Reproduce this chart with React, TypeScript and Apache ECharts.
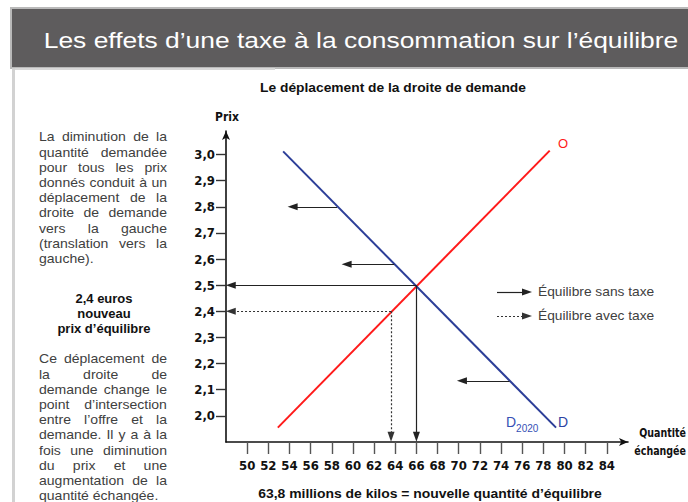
import React, { useEffect, useRef } from "react";
import * as echarts from "echarts";

// ---- data ----
const xTickValues = [50, 52, 54, 56, 58, 60, 62, 64, 66, 68, 70, 72, 74, 76, 78, 80, 82, 84];
const yTickValues = [2.0, 2.1, 2.2, 2.3, 2.4, 2.5, 2.6, 2.7, 2.8, 2.9, 3.0];
const supplyLine = [[52.9, 1.955], [78.6, 3.015]];
const demandLine = [[53.4, 3.012], [79.2, 1.955]];
const shiftFromX = [58.5, 63.9, 74.8];
const shiftToX = [54.3, 59.4, 70.3];
const shiftY = [2.8, 2.58, 2.134];
const eqNoTax = [66, 2.5];
const eqTax = [63.6, 2.4];
const axisOrigin = [48.45, 1.92];

const titleText = "Les effets d’une taxe à la consommation sur l’équilibre";
const subTitle = "Le déplacement de la droite de demande";
const bottomText = "63,8 millions de kilos = nouvelle quantité d’équilibre";
const para1 = [
  "La diminution de la",
  "quantité demandée",
  "pour tous les prix",
  "donnés conduit à un",
  "déplacement de la",
  "droite de demande",
  "vers la gauche",
  "(translation vers la",
  "gauche).",
];
const boldLines = ["2,4 euros", "nouveau", "prix d’équilibre"];
const para2 = [
  "Ce déplacement de",
  "la droite de",
  "demande change le",
  "point d’intersection",
  "entre l’offre et la",
  "demande. Il y a à la",
  "fois une diminution",
  "du prix et une",
  "augmentation de la",
  "quantité échangée.",
];
const legendLabels = ["Équilibre sans taxe", "Équilibre avec taxe"];

const BODY_FONT = '"Liberation Sans", Arial, sans-serif';
const NARROW_FONT = '"Liberation Sans Narrow", "DejaVu Sans Condensed", "Liberation Sans", sans-serif';

function justifiedLines(lines: string[], x0: number, width: number, y0: number, step: number, size: number, sx: number, color: string) {
  const canvas = document.createElement("canvas");
  const ctx = canvas.getContext("2d")!;
  ctx.font = `${size}px ${BODY_FONT}`;
  const els: any[] = [];
  lines.forEach((line, i) => {
    const y = y0 + i * step;
    const words = line.split(" ");
    const last = i === lines.length - 1;
    if (last || words.length < 2) {
      els.push({ type: "text", x: x0, y, scaleX: sx, style: { text: line, font: `${size}px ${BODY_FONT}`, fill: color, verticalAlign: "middle", align: "left" } });
      return;
    }
    const widths = words.map((w) => ctx.measureText(w).width * sx);
    const sum = widths.reduce((a, b) => a + b, 0);
    const gap = (width - sum) / (words.length - 1);
    let x = x0;
    words.forEach((w, j) => {
      els.push({ type: "text", x, y, scaleX: sx, style: { text: w, font: `${size}px ${BODY_FONT}`, fill: color, verticalAlign: "middle", align: "left" } });
      x += widths[j] + gap;
    });
  });
  return els;
}

export default function App() {
  const ref = useRef<HTMLDivElement>(null);
  useEffect(() => {
    if (!ref.current) return;
    const chart = echarts.init(ref.current, undefined, { renderer: "svg" });
    const fmt = (v: number) => v.toFixed(1).replace(".", ",");
    const textColor = "#404040";
    const arrowEnd = { symbol: "triangle", symbolSize: [7, 10] };

    const shiftData = shiftY.map((y, i) => [
      { coord: [shiftFromX[i], y], symbol: "none" },
      { coord: [shiftToX[i], y], ...arrowEnd },
    ]);

    const graphic: any[] = [
      { type: "rect", shape: { x: 11, y: 8, width: 690, height: 60 }, style: { fill: "#5e5c5d", stroke: "#b9b9b9", lineWidth: 2 } },
      { type: "rect", shape: { x: 12, y: 68, width: 3, height: 440 }, style: { fill: "#d2d2d2" } },
      { type: "rect", shape: { x: 15, y: 68, width: 260, height: 2 }, style: { fill: "#d8d8d8" } },
      { type: "text", x: 361, y: 40, scaleX: 1.2, style: { text: titleText, font: `22px ${BODY_FONT}`, fill: "#ffffff", align: "center", verticalAlign: "middle" } },
      { type: "text", x: 393, y: 88, scaleX: 1.15, style: { text: subTitle, font: `bold 12px ${BODY_FONT}`, fill: "#111", align: "center", verticalAlign: "middle" } },
      { type: "text", x: 430, y: 494, scaleX: 1.16, style: { text: bottomText, font: `bold 12px ${BODY_FONT}`, fill: "#111", align: "center", verticalAlign: "middle" } },
      { type: "text", x: 227, y: 117, style: { text: "Prix", font: `bold 12px ${NARROW_FONT}`, fill: "#111", align: "center", verticalAlign: "middle" } },
      { type: "text", x: 686, y: 433, scaleX: 0.88, style: { text: "Quantité", font: `bold 12px ${NARROW_FONT}`, fill: "#111", align: "right", verticalAlign: "middle" } },
      { type: "text", x: 686, y: 451, scaleX: 0.88, style: { text: "échangée", font: `bold 12px ${NARROW_FONT}`, fill: "#111", align: "right", verticalAlign: "middle" } },
      { type: "text", x: 563, y: 143, style: { text: "O", font: `13px ${BODY_FONT}`, fill: "#ff1a1a", align: "center", verticalAlign: "middle" } },
      { type: "text", x: 563, y: 422, style: { text: "D", font: `14px ${BODY_FONT}`, fill: "#2c43a3", align: "center", verticalAlign: "middle" } },
      {
        type: "text", x: 506, y: 424,
        style: {
          text: "{a|D}{b|2020}", align: "left", verticalAlign: "middle",
          rich: {
            a: { font: `14px ${BODY_FONT}`, fill: "#3550b5", verticalAlign: "top" },
            b: { font: `10px ${BODY_FONT}`, fill: "#3550b5", padding: [8, 0, 0, 0] },
          },
        },
      },
      { type: "text", x: 538, y: 292, scaleX: 1.06, style: { text: legendLabels[0], font: `13px ${BODY_FONT}`, fill: textColor, align: "left", verticalAlign: "middle" } },
      { type: "text", x: 538, y: 316, scaleX: 1.06, style: { text: legendLabels[1], font: `13px ${BODY_FONT}`, fill: textColor, align: "left", verticalAlign: "middle" } },
      ...justifiedLines(para1, 39, 128, 137, 15.2, 13, 1.08, textColor),
      ...boldLines.map((t, i) => ({ type: "text", x: 104, y: 298 + i * 15, style: { text: t, font: `bold 13px ${BODY_FONT}`, fill: "#111", align: "center", verticalAlign: "middle" } })),
      ...justifiedLines(para2, 39, 128, 359, 15.2, 13, 1.08, textColor),
    ];

    chart.setOption({
      animation: false,
      grid: { left: 226, top: 131, width: 402, height: 311, containLabel: false },
      xAxis: {
        type: "value", min: 48, max: 86, interval: 2,
        splitLine: { show: false },
        axisLine: { show: true, symbol: ["none", "arrow"], symbolSize: [6, 9], lineStyle: { color: "#111", width: 1.6 } },
        axisTick: { show: true, length: 12, customValues: xTickValues, lineStyle: { color: "#555", width: 1.4 } },
        axisLabel: {
          customValues: xTickValues, margin: 17,
          formatter: (v: number) => (v >= 50 && v <= 84 ? String(v) : ""),
          fontFamily: NARROW_FONT, fontWeight: "bold", fontSize: 13, color: "#111",
        },
      },
      yAxis: {
        type: "value", min: 1.9, max: 3.09, interval: 0.1,
        splitLine: { show: false },
        axisLine: { show: true, symbol: ["none", "arrow"], symbolSize: [6, 9], lineStyle: { color: "#111", width: 1.6 } },
        axisTick: { show: true, length: 10, customValues: yTickValues, lineStyle: { color: "#333", width: 1.4 } },
        axisLabel: {
          customValues: yTickValues, margin: 11,
          formatter: (v: number) => (v >= 1.95 ? fmt(v) : ""),
          fontFamily: NARROW_FONT, fontWeight: "bold", fontSize: 13, color: "#111",
        },
      },
      series: [
        {
          type: "line", data: supplyLine, symbol: "none", silent: true,
          lineStyle: { color: "#ff1a1a", width: 2 },
        },
        {
          type: "line", data: demandLine, symbol: "none", silent: true,
          lineStyle: { color: "#2c3e98", width: 2 },
        },
        {
          type: "line", data: [], silent: true,
          markLine: {
            silent: true, symbol: ["none", "triangle"], symbolSize: 9,
            label: { show: false }, emphasis: { disabled: true },
            lineStyle: { color: "#222", width: 1.2, type: "solid" },
            itemStyle: { color: "#111" },
            data: [
              ...shiftData,
              [{ coord: eqNoTax, symbol: "none" }, { coord: [axisOrigin[0], eqNoTax[1]], ...arrowEnd }],
              [{ coord: eqNoTax, symbol: "none" }, { coord: [eqNoTax[0], axisOrigin[1]], ...arrowEnd }],
              [{ x: 497, y: 292, symbol: "none" }, { x: 527, y: 292, ...arrowEnd }],
            ],
          },
        },
        {
          type: "line", data: [], silent: true,
          markLine: {
            silent: true, symbol: ["none", "triangle"], symbolSize: 9,
            label: { show: false }, emphasis: { disabled: true },
            lineStyle: { color: "#333", width: 1.2, type: [2, 2] },
            itemStyle: { color: "#111" },
            data: [
              [{ coord: eqTax, symbol: "none" }, { coord: [axisOrigin[0], eqTax[1]], ...arrowEnd }],
              [{ coord: eqTax, symbol: "none" }, { coord: [eqTax[0], axisOrigin[1]], ...arrowEnd }],
              [{ x: 497, y: 316, symbol: "none" }, { x: 527, y: 316, ...arrowEnd }],
            ],
          },
        },
      ],
      graphic,
    });
    return () => chart.dispose();
  }, []);
  return <div ref={ref} style={{ position: "fixed", left: 0, top: 0, width: 688, height: 502, background: "#fff" }} />;
}
